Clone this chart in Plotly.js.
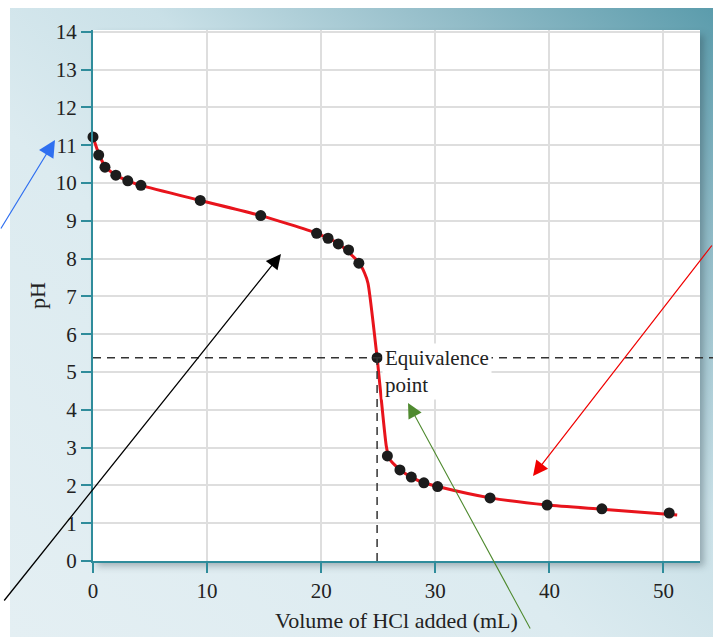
<!DOCTYPE html>
<html>
<head>
<meta charset="utf-8">
<script src="https://cdn.plot.ly/plotly-3.0.1.min.js"></script>
<style>
  html, body { margin: 0; padding: 0; background: #ffffff; }
  #bg { position: absolute; left: 10px; top: 8px; width: 703px; height: 629px;
        background: linear-gradient(to bottom left, #5b9cac 0%, #8fbac6 18%, #c9e0e7 40%, #dcebf0 60%, #e4eff3 100%); }
  #shadow { position: absolute; left: 93px; top: 30px; width: 607px; height: 531px;
        background: #ffffff; box-shadow: 4px 5px 7px rgba(40,60,70,0.35); }
  #chart { position: absolute; left: 0; top: 0; width: 713px; height: 637px; }
</style>
</head>
<body>
<div id="bg"></div>
<div id="shadow"></div>
<div id="chart"></div>
<script>
// Measured titration points
const volume = [0, 0.5, 1.05, 2.0, 3.05, 4.2, 9.4, 14.7, 19.6, 20.6, 21.5, 22.4, 23.3, 24.9, 25.8, 26.9, 27.9, 29.0, 30.2, 34.8, 39.8, 44.6, 50.5];
const pH     = [11.22, 10.74, 10.42, 10.21, 10.06, 9.94, 9.54, 9.14, 8.67, 8.54, 8.39, 8.23, 7.88, 5.38, 2.78, 2.41, 2.22, 2.07, 1.97, 1.67, 1.48, 1.38, 1.27];

// Smooth titration curve
const curveVolume = [0, 0.5, 1.05, 2.0, 3.05, 4.2, 9.4, 14.7, 19.6, 21.5, 23.3, 23.8, 24.1, 24.9, 25.7, 25.95, 26.9, 27.9, 29.0, 30.2, 34.8, 39.8, 44.6, 51.2];
const curvePH     = [11.22, 10.78, 10.45, 10.21, 10.06, 9.94, 9.54, 9.14, 8.67, 8.40, 7.90, 7.62, 7.35, 5.38, 3.05, 2.72, 2.42, 2.22, 2.07, 1.97, 1.67, 1.48, 1.37, 1.22];

// Equivalence point
const eqVolume = 24.9;
const eqPH = 5.38;

// Axis ticks
const xTicks = [0, 10, 20, 30, 40, 50];
const yTicks = [0, 1, 2, 3, 4, 5, 6, 7, 8, 9, 10, 11, 12, 13, 14];

const xRange = [0, 53.2];
const yRange = [0, 14.05];

const serif = 'Liberation Serif, Times New Roman, serif';
const teal = '#2f8c9b';

const traces = [
  {
    x: curveVolume, y: curvePH, type: 'scatter', mode: 'lines',
    line: { color: '#e8141c', width: 3, shape: 'spline', smoothing: 0.6 },
    hoverinfo: 'skip', showlegend: false
  },
  {
    x: volume, y: pH, type: 'scatter', mode: 'markers',
    marker: { color: '#1c1c1c', size: 11 },
    cliponaxis: false, showlegend: false
  }
];

const eqPaperY = (eqPH - yRange[0]) / (yRange[1] - yRange[0]);

const shapes = [
  // horizontal dashed line through equivalence point (extends past plot)
  { type: 'line', xref: 'paper', yref: 'paper', x0: 0, x1: 1.03, y0: eqPaperY, y1: eqPaperY,
    line: { color: '#333333', width: 1.5, dash: '8px,6px' }, layer: 'above' },
  // vertical dashed line
  { type: 'line', xref: 'x', yref: 'y', x0: eqVolume, x1: eqVolume, y0: 0, y1: eqPH,
    line: { color: '#333333', width: 1.5, dash: '8px,6px' }, layer: 'above' }
];

// pixel geometry of plot area for arrow placement
const L = 93, T = 30, W = 607, H = 531;
function px(x) { return (x - L) / W; }
function py(y) { return (T + H - y) / H; }

function arrow(tipX, tipY, tailX, tailY, color, width, size) {
  return {
    xref: 'paper', yref: 'paper', x: px(tipX), y: py(tipY),
    ax: tailX - tipX, ay: tailY - tipY, text: '', showarrow: true,
    arrowhead: 2, arrowsize: size, arrowwidth: width, arrowcolor: color, standoff: 0
  };
}

const annotations = [
  {
    x: eqVolume + 0.45, y: eqPH, xref: 'x', yref: 'y', xanchor: 'left', yanchor: 'top',
    yshift: 15, text: 'Equivalence<br>point', showarrow: false, align: 'left',
    font: { family: serif, size: 21, color: '#222222' }, bgcolor: '#ffffff', borderpad: 2
  },
  arrow(55, 140, 0, 230, '#2f6ff0', 1.2, 2.8),
  arrow(281, 254, 3, 602, '#000000', 1.3, 2.3),
  arrow(533, 476, 713, 244, '#f00000', 1.2, 2.5),
  arrow(408, 403, 531, 630, '#4f8a2f', 1.1, 2.7)
];

const layout = {
  width: 713, height: 637,
  margin: { l: L, r: 713 - L - W, t: T, b: 637 - T - H, pad: 0 },
  paper_bgcolor: 'rgba(0,0,0,0)',
  plot_bgcolor: '#ffffff',
  font: { family: serif, color: '#222222' },
  xaxis: {
    range: xRange, tickvals: xTicks, ticktext: xTicks.map(String),
    showgrid: true, gridcolor: '#dedede', gridwidth: 2,
    showline: true, linecolor: teal, linewidth: 2,
    ticks: 'outside', ticklen: 10, tickwidth: 2, tickcolor: teal,
    tickfont: { family: serif, size: 21, color: '#222222' },
    zeroline: false,
    title: { text: 'Volume of HCl added (mL)', font: { family: serif, size: 22, color: '#222222' }, standoff: 10 }
  },
  yaxis: {
    range: yRange, tickvals: yTicks, ticktext: yTicks.map(String),
    showgrid: true, gridcolor: '#dedede', gridwidth: 2,
    showline: true, linecolor: teal, linewidth: 2,
    ticks: 'outside', ticklen: 10, tickwidth: 2, tickcolor: teal,
    tickfont: { family: serif, size: 21, color: '#222222' },
    zeroline: false,
    title: { text: 'pH', font: { family: serif, size: 22, color: '#222222' }, standoff: 4 }
  },
  shapes: shapes,
  annotations: annotations,
  showlegend: false
};

Plotly.newPlot('chart', traces, layout, { displayModeBar: false, staticPlot: true });
</script>
</body>
</html>
